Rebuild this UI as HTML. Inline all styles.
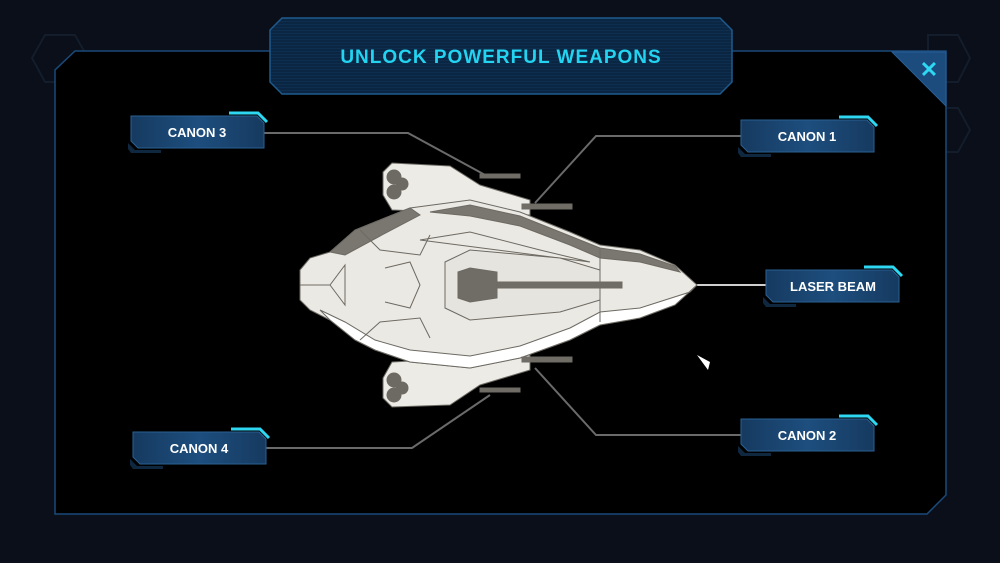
<!DOCTYPE html>
<html><head><meta charset="utf-8"><style>
html,body{margin:0;padding:0;background:#0a0f19;width:1000px;height:563px;overflow:hidden}
svg{display:block}
text{font-family:"Liberation Sans",sans-serif;font-weight:bold}
</style></head><body>
<svg width="1000" height="563" viewBox="0 0 1000 563" xmlns="http://www.w3.org/2000/svg">
<defs>
<linearGradient id="lg" x1="0" x2="1" y1="0" y2="0"><stop offset="0" stop-color="#163a60"/><stop offset="0.5" stop-color="#1d4e7e"/><stop offset="1" stop-color="#163a60"/></linearGradient>
<pattern id="st" width="4" height="3" patternUnits="userSpaceOnUse"><rect width="4" height="3" fill="#0b2643"/><rect width="4" height="1" fill="#0e2e50"/></pattern>
</defs>
<rect width="1000" height="563" fill="#0a0f19"/>
<polygon points="45,35 75,35 88,58 75,82 45,82 32,58" fill="none" stroke="#131d2b" stroke-width="2"/>
<polygon points="928,35 958,35 970,58 958,82 928,82" fill="none" stroke="#131d2b" stroke-width="2"/>
<polygon points="935,108 958,108 970,130 958,152 935,152" fill="none" stroke="#131d2b" stroke-width="2"/>
<polygon points="75,51 946,51 946,495 927,514 55,514 55,70" fill="#000" stroke="#1a4a7a" stroke-width="1.5"/>
<polygon points="892,52 946,52 946,106" fill="#1c4c7e" stroke="#275f95" stroke-width="1"/>
<text x="929" y="77" font-size="22" fill="#2fd8f2" text-anchor="middle">✕</text>
<polygon points="282,18 720,18 732,30 732,82 720,94 282,94 270,82 270,30" fill="url(#st)" stroke="#1f5a8c" stroke-width="1.5"/>
<text x="501" y="63" font-size="19" fill="#22d4f0" text-anchor="middle" font-weight="normal" letter-spacing="1">UNLOCK POWERFUL WEAPONS</text>
<g stroke="#6a6a6a" stroke-width="2" fill="none">
<polyline points="264,133 408,133 487,176"/>
<polyline points="741,136 596,136 535,203"/>
<polyline points="741,435 596,435 535,368"/>
<polyline points="266,448 412,448 490,395"/>
</g>
<line x1="680" y1="285" x2="766" y2="285" stroke="#cfcfcf" stroke-width="2"/>
<g stroke="#6d6a63" stroke-width="1">
<polygon points="383,172 392,163 450,166 480,185 530,200 530,215 392,210 383,195" fill="#ecebe5"/>
<polygon points="383,378 392,362 530,355 530,370 480,385 450,405 392,407 383,398" fill="#ecebe5"/>
<circle cx="394" cy="177" r="7" fill="#6d6a63"/><circle cx="394" cy="192" r="7" fill="#6d6a63"/><circle cx="402" cy="184" r="6" fill="#6d6a63"/>
<circle cx="394" cy="380" r="7" fill="#6d6a63"/><circle cx="394" cy="395" r="7" fill="#6d6a63"/><circle cx="402" cy="388" r="6" fill="#6d6a63"/>
<polygon points="300,270 310,258 330,252 355,230 375,222 410,208 470,200 520,212 570,232 600,245 640,250 675,265 697,285 675,305 640,318 600,325 570,340 520,358 470,368 410,362 375,350 355,340 330,320 310,310 300,300" fill="#ebe9e3"/>
<polygon points="330,252 355,230 375,222 410,208 420,215 380,236 345,255" fill="#7a7770"/>
<polygon points="430,212 470,205 520,216 570,236 600,248 640,254 675,266 680,272 640,262 600,258 570,245 520,226 470,216" fill="#7a7770"/>
<polygon points="420,240 470,232 540,250 590,262" fill="none"/>
<polygon points="320,310 330,320 355,340 375,350 410,362 470,368 520,358 570,340 600,325 640,318 675,305 697,285 690,292 640,308 600,312 570,328 520,346 470,356 410,350 375,340 345,322" fill="#ffffff"/>
<polyline points="300,285 330,285 345,265 345,305 330,285" fill="none"/>
<polyline points="385,268 410,262 420,285 410,308 385,302" fill="none"/>
<polyline points="360,230 380,250 420,255 430,235" fill="none"/>
<polyline points="360,340 380,322 420,318 430,338" fill="none"/>
<polygon points="445,262 470,250 560,258 600,270 600,300 560,312 470,320 445,308" fill="#e6e4de"/>
<line x1="600" y1="248" x2="600" y2="322"/>
<polygon points="458,272 470,268 497,272 497,298 470,302 458,298" fill="#706d67"/>
<rect x="497" y="282" width="125" height="6" fill="#706d67"/>
<rect x="480" y="174" width="40" height="4" fill="#706d67"/>
<rect x="522" y="204" width="50" height="5" fill="#706d67"/>
<rect x="522" y="357" width="50" height="5" fill="#706d67"/>
<rect x="480" y="388" width="40" height="4" fill="#706d67"/>
</g>
<polygon points="697,355 710,362 708,370" fill="#fff"/>
<g font-size="13" fill="#fff" text-anchor="middle">
<g transform="translate(131,116)"><polygon points="-3,27 4,34 30,34 30,37 0,37 -3,33" fill="#0f2840"/><polygon points="0,0 126,0 133,7 133,32 7,32 0,25" fill="url(#lg)" stroke="#2a5f92"/><polyline points="98,-3 127,-3 136,6" stroke="#2fd8f2" stroke-width="3" fill="none"/><text x="66" y="21">CANON 3</text></g>
<g transform="translate(741,120)"><polygon points="-3,27 4,34 30,34 30,37 0,37 -3,33" fill="#0f2840"/><polygon points="0,0 126,0 133,7 133,32 7,32 0,25" fill="url(#lg)" stroke="#2a5f92"/><polyline points="98,-3 127,-3 136,6" stroke="#2fd8f2" stroke-width="3" fill="none"/><text x="66" y="21">CANON 1</text></g>
<g transform="translate(766,270)"><polygon points="-3,27 4,34 30,34 30,37 0,37 -3,33" fill="#0f2840"/><polygon points="0,0 126,0 133,7 133,32 7,32 0,25" fill="url(#lg)" stroke="#2a5f92"/><polyline points="98,-3 127,-3 136,6" stroke="#2fd8f2" stroke-width="3" fill="none"/><text x="67" y="21">LASER BEAM</text></g>
<g transform="translate(741,419)"><polygon points="-3,27 4,34 30,34 30,37 0,37 -3,33" fill="#0f2840"/><polygon points="0,0 126,0 133,7 133,32 7,32 0,25" fill="url(#lg)" stroke="#2a5f92"/><polyline points="98,-3 127,-3 136,6" stroke="#2fd8f2" stroke-width="3" fill="none"/><text x="66" y="21">CANON 2</text></g>
<g transform="translate(133,432)"><polygon points="-3,27 4,34 30,34 30,37 0,37 -3,33" fill="#0f2840"/><polygon points="0,0 126,0 133,7 133,32 7,32 0,25" fill="url(#lg)" stroke="#2a5f92"/><polyline points="98,-3 127,-3 136,6" stroke="#2fd8f2" stroke-width="3" fill="none"/><text x="66" y="21">CANON 4</text></g>
</g>
</svg>
</body></html>
